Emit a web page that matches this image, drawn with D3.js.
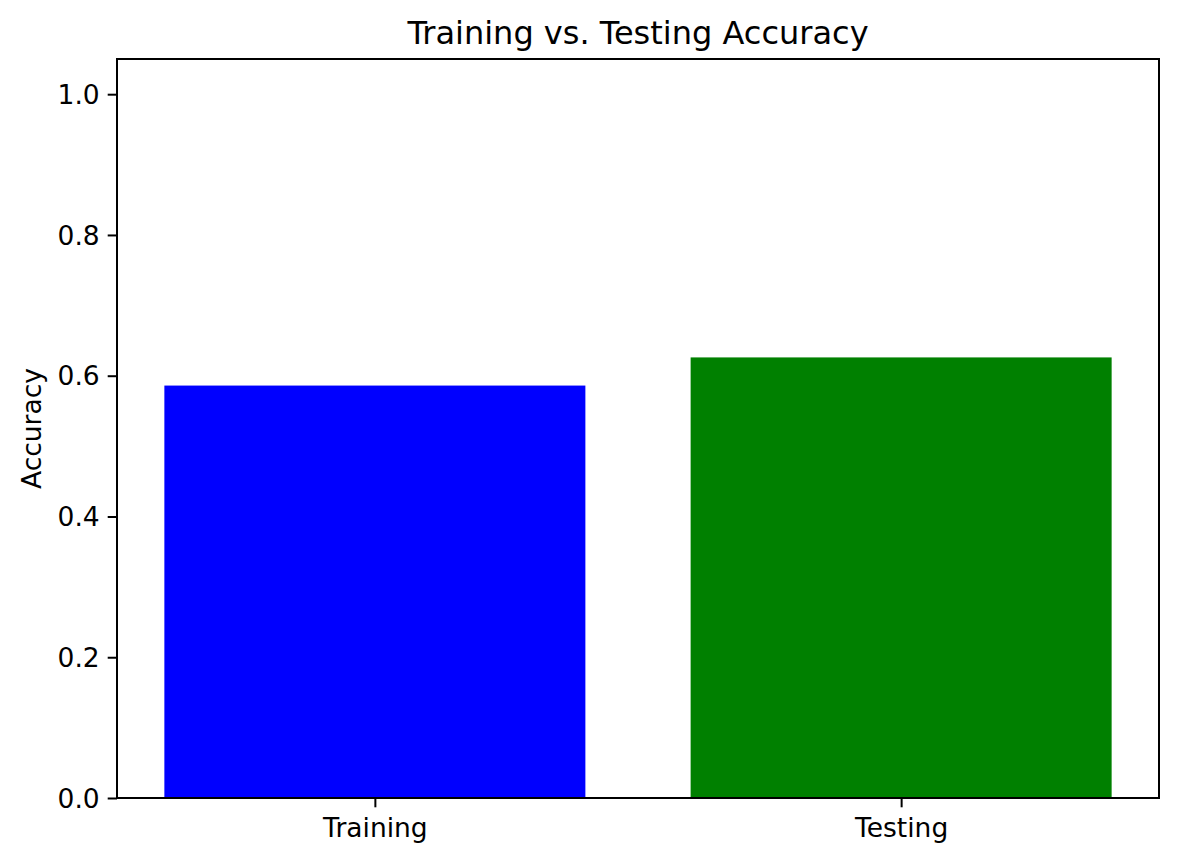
<!DOCTYPE html>
<html>
<head>
<meta charset="utf-8">
<script src="https://cdn.jsdelivr.net/npm/d3@7"></script>
<style>
  body { margin: 0; background: #fff; }
  svg text { font-family: "DejaVu Sans", sans-serif; fill: #000; }
</style>
</head>
<body>
<script>
// data
let categories = ["Training", "Testing"];
let accuracy = [0.586, 0.626];
let barColors = ["#0000ff", "#008000"];
let yTicks = [0.0, 0.2, 0.4, 0.6, 0.8, 1.0];

// set the dimensions and margins of the graph
let margin = {top: 59, right: 18, bottom: 64, left: 117},
    width = 1177 - margin.left - margin.right,
    height = 862 - margin.top - margin.bottom;

// x as a linear scale on category index, like matplotlib bar positions
let x = d3.scaleLinear().domain([-0.49, 1.49]).range([0, width]);
let y = d3.scaleLinear().domain([0, 1.05]).range([height, 0]);
let barWidth = x(0.8) - x(0);

let tickFont = "26.5px";
let tickLen = 9.3;

let svg = d3.select("body").append("svg")
    .attr("width", 1177)
    .attr("height", 862);

let context = svg.append("g")
    .attr("transform", "translate(" + margin.left + "," + margin.top + ")");

// bars
context.selectAll("rect.bar")
    .data(accuracy)
    .enter().append("rect")
    .attr("class", "bar")
    .attr("x", function(d, i) { return x(i) - barWidth / 2; })
    .attr("y", function(d) { return y(d); })
    .attr("width", barWidth)
    .attr("height", function(d) { return height - y(d); })
    .attr("fill", function(d, i) { return barColors[i]; });

// Y axis
let yAxis = context.append("g")
    .call(d3.axisLeft(y).tickValues(yTicks).tickFormat(d3.format(".1f"))
        .tickSize(tickLen).tickPadding(8));
yAxis.select(".domain").remove();
yAxis.selectAll(".tick line").attr("stroke", "#000").attr("stroke-width", 2);
yAxis.selectAll(".tick text").style("font-size", tickFont).attr("dy", "0.35em");

// X axis
let xAxis = context.append("g")
    .attr("transform", "translate(0," + height + ")")
    .call(d3.axisBottom(x).tickValues([0, 1]).tickFormat(function(d) { return categories[d]; })
        .tickSize(tickLen).tickPadding(11));
xAxis.select(".domain").remove();
xAxis.selectAll(".tick line").attr("stroke", "#000").attr("stroke-width", 2);
xAxis.selectAll(".tick text").style("font-size", tickFont);

// frame
context.append("rect")
    .attr("width", width)
    .attr("height", height)
    .attr("fill", "none")
    .attr("stroke", "#000")
    .attr("stroke-width", 2);

// title
svg.append("text")
    .attr("x", margin.left + width / 2)
    .attr("y", 44)
    .attr("text-anchor", "middle")
    .style("font-size", "32px")
    .text("Training vs. Testing Accuracy");

// y label
svg.append("text")
    .attr("transform", "translate(41," + (margin.top + height / 2) + ") rotate(-90)")
    .attr("text-anchor", "middle")
    .style("font-size", tickFont)
    .text("Accuracy");
</script>
</body>
</html>
